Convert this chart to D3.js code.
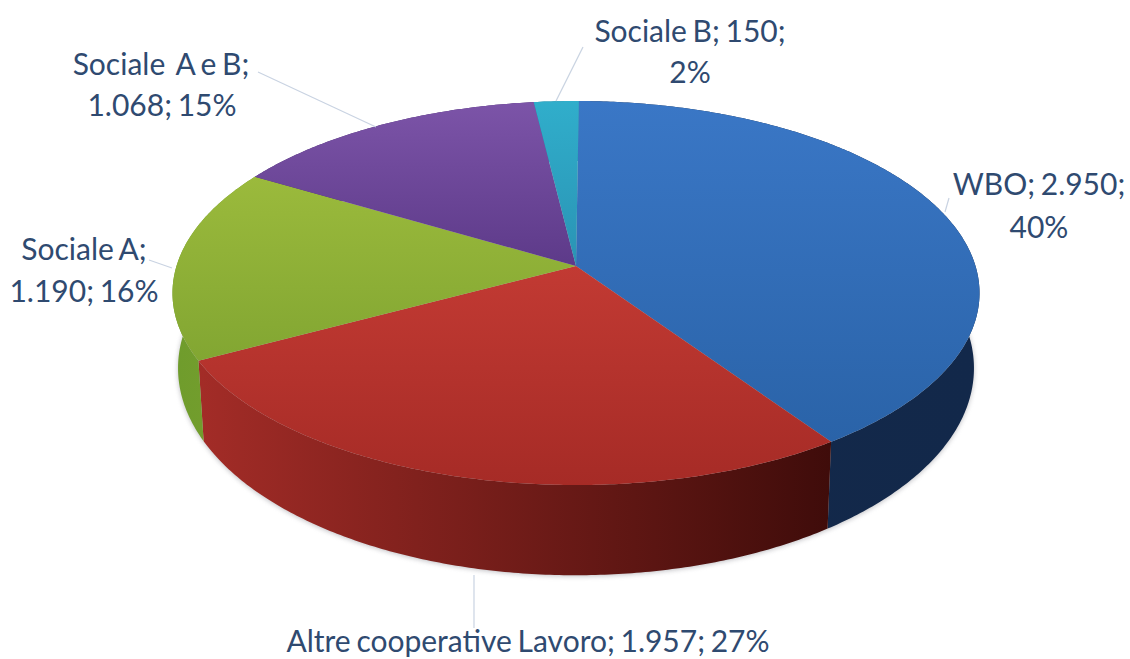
<!DOCTYPE html>
<html>
<head>
<meta charset="utf-8">
<script src="https://cdn.jsdelivr.net/npm/d3@7/dist/d3.min.js"></script>
<style>
  html, body { margin: 0; padding: 0; background: #fff; }
  svg { display: block; }
  text { font-family: Lato, "Open Sans", sans-serif; font-size: 30px; word-spacing: -2px; fill: #2f4a70; text-anchor: middle; }
</style>
</head>
<body>
<svg id="chart" width="1130" height="659"></svg>
<script>
// Cooperative categories and their counts
const categories = ["WBO", "Altre cooperative Lavoro", "Sociale A", "Sociale  A e B", "Sociale B"];
const values = [2950, 1957, 1190, 1068, 150];
const faceColors = [
  ["#3a77c6", "#2a63a8"],
  ["#c23a33", "#a62b26"],
  ["#9bba3c", "#82a632"],
  ["#7c54a8", "#5d3a89"],
  ["#30aecb", "#2a93b4"]
];
const wallColors = [
  ["#14294a", "#12284a"],
  ["#a32c27", "#3f0c0a"],
  ["#6f9c2c", "#789f2e"],
  ["#4a2f70", "#4a2f70"],
  ["#1f7f98", "#1f7f98"]
];
// How each label wraps: number of leading parts kept on the first line
const labelBreaks = [2, 3, 1, 1, 2];

// Projected disc geometry
const cx = 576, cy = 266, k = 0.1407;
const topRim = { rx: 399.5, ry: 188.2, cx: cx, cy: cy };
const bottomRim = { rx: 394, ry: 203, cx: cx, cy: 339 };
const startAngle = 0.008;

const svg = d3.select("#chart");
const defs = svg.append("defs");
const total = d3.sum(values);
const thousands = d3.formatLocale({ decimal: ",", thousands: ".", grouping: [3], currency: ["", ""] }).format(",d");

const pie = d3.pie().sort(null).startAngle(startAngle).endAngle(startAngle + 2 * Math.PI);
const arcs = pie(values);

// Perspective projection of an angle on the unit circle onto a rim
function project(rim, a) {
  const u = Math.sin(a), v = -Math.cos(a), w = 1 - k * v;
  return [rim.cx + rim.rx * u / w, rim.cy + rim.ry * v / w];
}
function rimPoints(rim, a0, a1) {
  const n = Math.max(2, Math.ceil((a1 - a0) / 0.01));
  return d3.range(n + 1).map(i => project(rim, a0 + (a1 - a0) * i / n));
}
const line = d3.line().curve(d3.curveLinear);

function gradient(id, stops, x1, y1, x2, y2) {
  const g = defs.append("linearGradient").attr("id", id)
    .attr("gradientUnits", "userSpaceOnUse")
    .attr("x1", x1).attr("y1", y1).attr("x2", x2).attr("y2", y2);
  stops.forEach((c, i) => g.append("stop").attr("offset", i / (stops.length - 1)).attr("stop-color", c));
}

// Soft shadow under the disc's lower edge
const shadow = defs.append("filter").attr("id", "edge-blur")
  .attr("x", "-5%").attr("y", "-5%").attr("width", "110%").attr("height", "110%");
shadow.append("feGaussianBlur").attr("stdDeviation", 2.5);
svg.append("path")
  .attr("d", line(rimPoints({ ...bottomRim, cy: bottomRim.cy + 1 }, 0, 2 * Math.PI)) + "Z")
  .attr("fill", "#8a8a92").attr("opacity", 0.55).attr("filter", "url(#edge-blur)");

// Side walls first, so the top faces cover the hidden back part
const walls = svg.append("g");
arcs.forEach((d, i) => {
  const pts = rimPoints(topRim, d.startAngle, d.endAngle);
  const low = rimPoints(bottomRim, d.startAngle, d.endAngle).reverse();
  const xs = pts.concat(low).map(p => p[0]);
  gradient("wall" + i, wallColors[i], d3.min(xs), 0, d3.max(xs), 0);
  walls.append("path")
    .attr("d", line(pts.concat(low)) + "Z")
    .attr("fill", `url(#wall${i})`);
});

// Top faces
const faces = svg.append("g");
arcs.forEach((d, i) => {
  const pts = [[cx, cy]].concat(rimPoints(topRim, d.startAngle, d.endAngle));
  const ys = pts.map(p => p[1]);
  gradient("face" + i, faceColors[i], 0, d3.min(ys), 0, d3.max(ys));
  faces.append("path")
    .attr("d", line(pts) + "Z")
    .attr("fill", `url(#face${i})`);
});

// Leader lines from each label to its slice
const leaders = [
  [[949, 198], [945, 212]],
  [[474, 575], [474, 628]],
  [[149, 260], [172, 268]],
  [[258, 72], [376, 127]],
  [[583, 47], [556, 101]]
];
svg.append("g").selectAll("path").data(leaders).join("path")
  .attr("d", d => line(d))
  .attr("fill", "none").attr("stroke", "#c9d3e2").attr("stroke-width", 1.2);

// Labels: name; value; share
const labelAnchors = [
  [[1039, 195], [1039, 238]],
  [[528, 652]],
  [[84, 260], [84, 302]],
  [[161, 75], [162, 116]],
  [[690, 42], [690, 83]]
];
const labels = svg.append("g");
categories.forEach((name, i) => {
  const parts = [name, thousands(values[i]), Math.round(values[i] / total * 100) + "%"];
  const brk = labelBreaks[i];
  const lines = [parts.slice(0, brk).join("; ") + (brk < 3 ? ";" : ""), parts.slice(brk).join("; ")]
    .filter(s => s.length);
  lines.forEach((s, j) => {
    labels.append("text")
      .attr("x", labelAnchors[i][j][0]).attr("y", labelAnchors[i][j][1])
      .style("white-space", "pre")
      .text(s);
  });
});
</script>
</body>
</html>
